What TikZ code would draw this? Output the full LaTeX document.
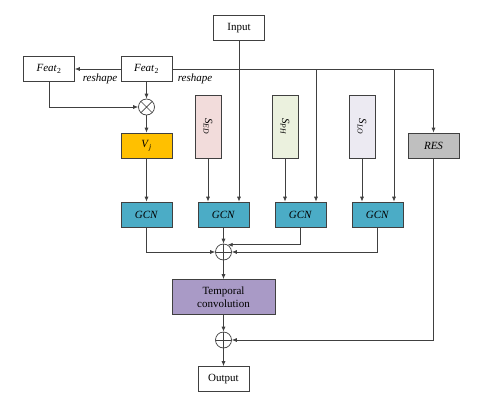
\documentclass[tikz,border=0pt]{standalone}
\usepackage{fontspec}
\setmainfont{Liberation Serif}
\usetikzlibrary{arrows.meta}

\definecolor{vjcol}{HTML}{FFC000}
\definecolor{edcol}{HTML}{F2DCDB}
\definecolor{phcol}{HTML}{EBF1DE}
\definecolor{locol}{HTML}{ECEAF2}
\definecolor{rescol}{HTML}{BFBFBF}
\definecolor{gcncol}{HTML}{4BACC6}
\definecolor{tcncol}{HTML}{A99AC6}
\definecolor{linecol}{HTML}{404040}

\tikzset{
  blk/.style={draw=linecol, line width=0.7pt, minimum width=51pt, minimum height=25pt, inner sep=1pt},
  tall/.style={draw=linecol, line width=0.7pt, minimum width=26pt, minimum height=63pt, inner sep=1pt},
  sumnode/.style={circle, draw=linecol, line width=0.7pt, minimum size=16pt, inner sep=0pt, fill=white},
  plusnode/.style={sumnode, path picture={
    \draw[linecol, line width=0.7pt] (path picture bounding box.north) -- (path picture bounding box.south)
      (path picture bounding box.west) -- (path picture bounding box.east);}},
  timesnode/.style={sumnode, path picture={
    \draw[linecol, line width=0.7pt] ([shift={(45:8pt)}]path picture bounding box.center) -- ([shift={(225:8pt)}]path picture bounding box.center)
      ([shift={(135:8pt)}]path picture bounding box.center) -- ([shift={(-45:8pt)}]path picture bounding box.center);}},
  conn/.style={draw=linecol, line width=0.7pt, -{Latex[length=5pt,width=4pt]}},
}

\begin{document}
\begin{tikzpicture}[x=1pt, y=-1pt, font=\fontsize{11}{13}\selectfont]
\useasboundingbox (0,0) rectangle (480,400);
% блоки
\node [blk] (input) at (239,28) {Input};
\node [blk] (feata) at (49,69) {\textit{Feat}\textsubscript{2}};
\node [blk] (featb) at (146.5,69) {\textit{Feat}\textsubscript{2}};
\node [timesnode] (mul) at (146.5,107) {};
\node [blk, fill=vjcol] (vj) at (146.5,145.5) {\textit{V}\textsubscript{\textit{j}}};
\node [tall, fill=edcol] (sed) at (208,126.5) {\rotatebox{-90}{\textit{S}\textsubscript{\textit{ED}}}};
\node [tall, fill=phcol] (sph) at (285,126.5) {\rotatebox{-90}{\textit{S}\textsubscript{\textit{PH}}}};
\node [tall, fill=locol] (slo) at (362,126.5) {\rotatebox{-90}{\textit{S}\textsubscript{\textit{LO}}}};
\node [blk, fill=rescol] (res) at (433.5,145.5) {\textit{RES}};
\node [blk, fill=gcncol] (gcna) at (146.5,214.5) {\textit{GCN}};
\node [blk, fill=gcncol] (gcnb) at (223.5,214.5) {\textit{GCN}};
\node [blk, fill=gcncol] (gcnc) at (300.5,214.5) {\textit{GCN}};
\node [blk, fill=gcncol] (gcnd) at (377.5,214.5) {\textit{GCN}};
\node [plusnode] (suma) at (223.5,252) {};
\node [blk, fill=tcncol, minimum width=103pt, minimum height=35pt, align=center] (tcn) at (223.5,297) {Temporal\\convolution};
\node [plusnode] (sumb) at (223.5,340) {};
\node [blk] (output) at (223.5,379) {Output};
% подписи
\node (rsa) at (100,79) {\textit{reshape}};
\node (rsb) at (195,79) {\textit{reshape}};
% стрелки
\coordinate (bra) at (316,69);
\coordinate (brb) at (394,69);
\draw [conn] (featb) -- (feata);
\draw [conn] (featb.east) -| (res.north);
\draw [conn] (bra) -- (bra |- gcnc.north);
\draw [conn] (brb) -- (brb |- gcnd.north);
\draw [conn] (input) -- (input |- gcnb.north);
\draw [conn] (featb) -- (mul);
\draw [conn] (feata) |- (mul);
\draw [conn] (mul) -- (vj);
\draw [conn] (vj) -- (gcna);
\draw [conn] (sed) -- (sed |- gcnb.north);
\draw [conn] (sph) -- (sph |- gcnc.north);
\draw [conn] (slo) -- (slo |- gcnd.north);
\draw [conn] (gcnb) -- (suma);
\draw [conn] (gcna) |- (suma);
\draw [conn] (gcnc) |- (suma.60);
\draw [conn] (gcnd) |- (suma);
\draw [conn] (suma) -- (tcn);
\draw [conn] (tcn) -- (sumb);
\draw [conn] (res) |- (sumb);
\draw [conn] (sumb) -- (output);
\end{tikzpicture}
\end{document}
